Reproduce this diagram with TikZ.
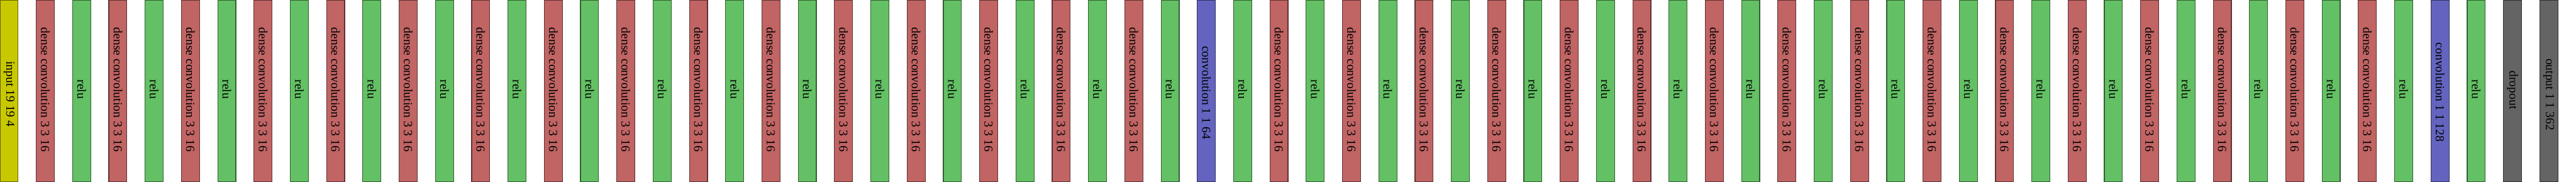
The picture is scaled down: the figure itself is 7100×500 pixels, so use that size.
\documentclass[tikz,border=0pt]{standalone}
\usepackage{fontspec}
\setmainfont{Liberation Serif}
\definecolor{inputfill}{RGB}{200,200,0}
\definecolor{inputdraw}{RGB}{100,100,0}
\definecolor{densefill}{RGB}{192,100,100}
\definecolor{densedraw}{RGB}{96,50,50}
\definecolor{relufill}{RGB}{100,192,100}
\definecolor{reludraw}{RGB}{50,96,50}
\definecolor{convfill}{RGB}{100,100,192}
\definecolor{convdraw}{RGB}{50,50,96}
\definecolor{grayfill}{RGB}{100,100,100}
\definecolor{graydraw}{RGB}{50,50,50}
\newcommand\drawlayer[4]{%
  \node[#2] (b#1) at ({100*#1+25},249) {};
  \node[lbl] (t#1) at ({100*#1+25},#4) {#3};}
\begin{document}
\begin{tikzpicture}[x=0.5pt,y=0.5pt,
  layerbox/.style={rectangle, inner sep=0pt, minimum width=25pt, minimum height=250pt, line width=1pt},
  inputbox/.style={layerbox, fill=inputfill, draw=inputdraw},
  densebox/.style={layerbox, fill=densefill, draw=densedraw},
  relubox/.style={layerbox, fill=relufill, draw=reludraw},
  convbox/.style={layerbox, fill=convfill, draw=convdraw},
  graybox/.style={layerbox, fill=grayfill, draw=graydraw},
  lbl/.style={rotate=-90, inner sep=0pt, text=black, font=\fontsize{17pt}{20pt}\selectfont}]
\useasboundingbox (0,0) rectangle (7100,500);
\clip (0,0) rectangle (7100,500);
\drawlayer{0}{inputbox}{input 19 19 4}{241}
\foreach \k in {0,...,15}{
  \pgfmathtruncatemacro\da{1+2*\k}
  \pgfmathtruncatemacro\ra{2+2*\k}
  \drawlayer{\da}{densebox}{dense convolution 3 3 16}{253}
  \drawlayer{\ra}{relubox}{relu}{254}
}
\drawlayer{33}{convbox}{convolution 1 1 64}{245}
\drawlayer{34}{relubox}{relu}{254}
\foreach \k in {0,...,15}{
  \pgfmathtruncatemacro\db{35+2*\k}
  \pgfmathtruncatemacro\rb{36+2*\k}
  \drawlayer{\db}{densebox}{dense convolution 3 3 16}{253}
  \drawlayer{\rb}{relubox}{relu}{254}
}
\drawlayer{67}{convbox}{convolution 1 1 128}{246}
\drawlayer{68}{relubox}{relu}{254}
\drawlayer{69}{graybox}{dropout}{252}
\drawlayer{70}{graybox}{output 1 1 362}{240}
\end{tikzpicture}
\end{document}
